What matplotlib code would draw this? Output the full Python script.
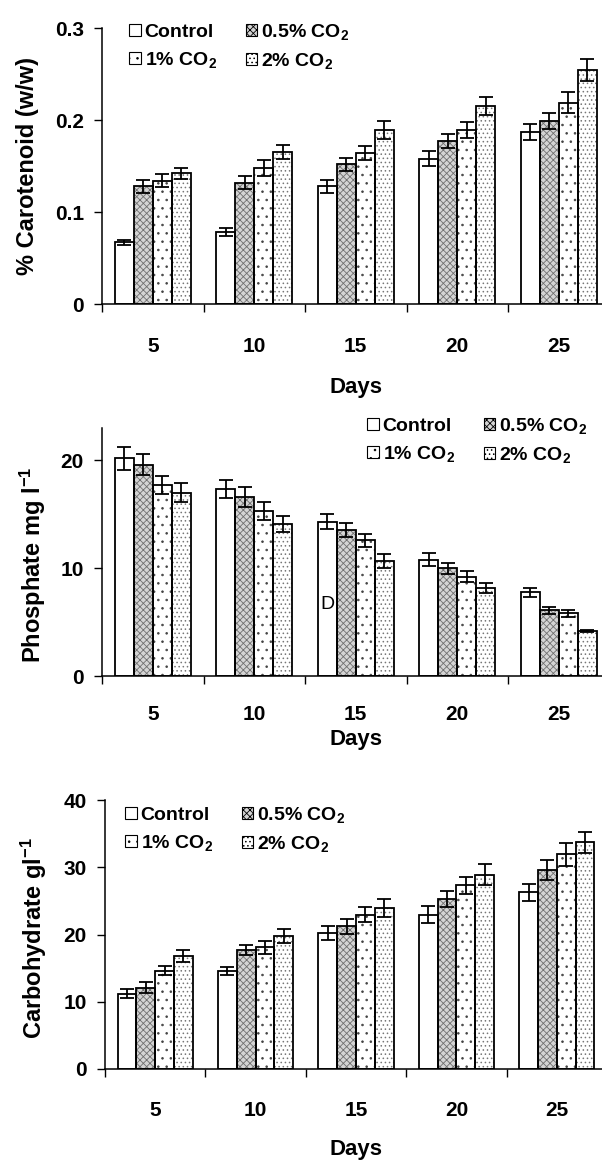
import numpy as np
import matplotlib
matplotlib.use("Agg")
import matplotlib.pyplot as plt
from matplotlib.patches import Patch

plt.rcParams['font.family'] = ['Liberation Sans', 'DejaVu Sans']
plt.rcParams['font.weight'] = 'bold'
plt.rcParams['axes.labelweight'] = 'bold'
plt.rcParams['mathtext.fontset'] = 'custom'
plt.rcParams['mathtext.bf'] = 'Liberation Sans:bold'
plt.rcParams['mathtext.rm'] = 'Liberation Sans:bold'
plt.rcParams['mathtext.default'] = 'bf'
plt.rcParams['hatch.linewidth'] = 0.6

days = ['5', '10', '15', '20', '25']
series = ['Control', '0.5% CO$_2$', '1% CO$_2$', '2% CO$_2$']

# carotenoid % (w/w), rows = series, cols = days
carot = [[0.067, 0.078, 0.128, 0.158, 0.187],
         [0.128, 0.132, 0.152, 0.177, 0.199],
         [0.134, 0.148, 0.164, 0.189, 0.219],
         [0.142, 0.165, 0.189, 0.215, 0.254]]
carot_err = [[0.003, 0.0045, 0.007, 0.008, 0.009],
             [0.007, 0.007, 0.007, 0.0075, 0.0085],
             [0.007, 0.0085, 0.008, 0.0087, 0.011],
             [0.006, 0.0075, 0.010, 0.0096, 0.012]]

# phosphate mg/l
phos = [[20.2, 17.35, 14.3, 10.8, 7.75],
        [19.6, 16.6, 13.55, 10.0, 6.1],
        [17.7, 15.3, 12.6, 9.2, 5.8],
        [17.0, 14.1, 10.65, 8.15, 4.2]]
phos_err = [[1.06, 0.87, 0.7, 0.62, 0.42],
            [1.0, 0.92, 0.65, 0.5, 0.34],
            [0.86, 0.83, 0.6, 0.5, 0.3],
            [0.9, 0.7, 0.62, 0.44, 0.1]]

# carbohydrate g/l
carb = [[11.2, 14.6, 20.2, 22.95, 26.25],
        [12.1, 17.7, 21.2, 25.3, 29.6],
        [14.6, 18.1, 22.95, 27.3, 31.9],
        [16.8, 19.75, 24.0, 28.9, 33.7]]
carb_err = [[0.7, 0.6, 1.06, 1.3, 1.28],
            [0.86, 0.8, 1.1, 1.23, 1.5],
            [0.66, 1.0, 1.1, 1.3, 1.65],
            [0.94, 1.0, 1.35, 1.58, 1.6]]

faces = ['white', '#d4d4d4', 'white', 'white']
hatches = [None, 'xxxxx', '..', '....']
hatch_cols = ['black', '#707070', '#444444', '#777777']

W, H = 602, 1163
fig = plt.figure(figsize=(W / 100, H / 100), dpi=100)


def panel(rect, vals, errs, ylim, yticks, yticklabels, ylabel, ylab_xy,
          leg_xy, days_y, num_pad):
    ax = fig.add_axes(rect)
    x = np.arange(len(days))
    w = 0.187
    for i in range(4):
        pos = x + (i - 1.5) * w
        # texture first, then the black outline and error bars on top
        ax.bar(pos, vals[i], w, color=faces[i], edgecolor=hatch_cols[i],
               linewidth=0, hatch=hatches[i], zorder=2)
        ax.bar(pos, vals[i], w, yerr=errs[i], fill=False,
               edgecolor='black', linewidth=1.3,
               error_kw=dict(ecolor='black', elinewidth=1.3,
                             capsize=5, capthick=1.3), zorder=3)
    ax.set_xlim(-0.5, 4.5)
    ax.set_ylim(*ylim)
    ax.set_yticks(yticks)
    ax.set_yticklabels(yticklabels)
    ax.set_xticks(np.arange(-0.5, 4.6, 1.0))
    ax.set_xticklabels([])
    ax.set_xticks(x, minor=True)
    ax.set_xticklabels(days, minor=True)
    ax.tick_params(axis='x', which='major', direction='out', length=6,
                   width=1.0)
    ax.tick_params(axis='x', which='minor', length=0, pad=num_pad,
                   labelsize=15)
    ax.tick_params(axis='y', direction='out', length=6, width=1.0, pad=7,
                   labelsize=15)
    for s in ['top', 'right']:
        ax.spines[s].set_visible(False)
    for s in ['left', 'bottom']:
        ax.spines[s].set_linewidth(1.1)
    ax.set_ylabel(ylabel, fontsize=17, fontweight='bold')
    ax.yaxis.set_label_coords(*ylab_xy)
    ax.yaxis.label.set_va('center')
    ax.set_xlabel('Days', fontsize=16, fontweight='bold')
    ax.xaxis.set_label_coords(0.5, days_y)
    ax.xaxis.label.set_va('center')
    handles = [Patch(facecolor=faces[i], edgecolor='black', linewidth=0.8,
                     hatch=hatches[i]) for i in range(4)]
    order = [0, 2, 1, 3]
    ax.legend([handles[k] for k in order], [series[k] for k in order],
              ncol=2, loc='upper left',
              bbox_to_anchor=(leg_xy[0] / W, 1 - leg_xy[1] / H),
              bbox_transform=fig.transFigure, frameon=False,
              fontsize=14, handlelength=0.6, handleheight=0.6,
              handletextpad=0.2, columnspacing=1.5, labelspacing=0.45,
              borderpad=0, borderaxespad=0)
    return ax


# top: carotenoid
ax1 = panel([102 / W, 1 - 304 / H, 507.5 / W, 276 / H], carot, carot_err,
            (0, 0.3), [0, 0.1, 0.2, 0.3], ['0', '0.1', '0.2', '0.3'],
            '% Carotenoid (w/w)', (-0.147, 0.5), (129, 22),
            -84 / 276, 24)

# middle: phosphate
ax2 = panel([102 / W, 1 - 676 / H, 507.5 / W, 248 / H], phos, phos_err,
            (0, 23), [0, 10, 20], ['0', '10', '20'],
            'Phosphate mg l$^{-1}$', (-0.136, 0.45), (367, 416),
            -64 / 248, 21)
ax2.text(2 - 1.5 * 0.187, 6.6, 'D', ha='center', va='center',
         fontsize=14, fontweight='normal', zorder=4)

# bottom: carbohydrate
ax3 = panel([105 / W, 1 - 1069 / H, 502 / W, 269 / H], carb, carb_err,
            (0, 40), [0, 10, 20, 30, 40], ['0', '10', '20', '30', '40'],
            'Carbohydrate gl$^{-1}$', (-0.142, 0.487), (125, 805),
            -80 / 269, 23)

fig.savefig('out.png', dpi=100)
